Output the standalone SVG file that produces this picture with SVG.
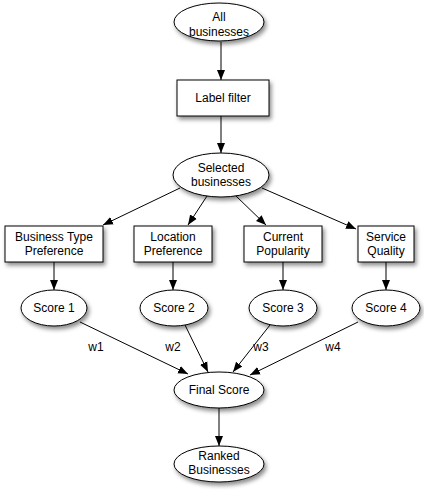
<svg xmlns="http://www.w3.org/2000/svg" width="424" height="497" viewBox="0 0 424 497">
<defs>
<filter id="sh" x="-30%" y="-30%" width="170%" height="180%">
<feDropShadow dx="2" dy="3" stdDeviation="2" flood-color="#000" flood-opacity="0.45"/>
</filter>
<marker id="ah" markerUnits="userSpaceOnUse" markerWidth="10" markerHeight="10" viewBox="0 0 10 10" refX="10" refY="5" orient="auto">
<path d="M0,1 L10,5 L0,9 Z" fill="#000"/>
</marker>
<style>
.n{fill:#fff;stroke:#000;stroke-width:1;filter:url(#sh)}
text{font-family:"Liberation Sans",Arial,Helvetica,sans-serif;font-size:12px;fill:#000;text-anchor:middle}
.e{stroke:#000;stroke-width:1;fill:none;marker-end:url(#ah)}
</style>
</defs>
<rect width="424" height="497" fill="#fff"/>
<g id="connectors">
<line class="e" x1="221" y1="42" x2="221" y2="80"/>
<line class="e" x1="221" y1="116" x2="221" y2="153"/>
<line class="e" x1="180" y1="188" x2="103" y2="225"/>
<line class="e" x1="207" y1="196" x2="188" y2="225"/>
<line class="e" x1="236" y1="196" x2="266" y2="225"/>
<line class="e" x1="262" y1="188" x2="356" y2="229"/>
<line class="e" x1="54" y1="262" x2="54" y2="290"/>
<line class="e" x1="173" y1="262" x2="173" y2="290"/>
<line class="e" x1="283" y1="262" x2="283" y2="290"/>
<line class="e" x1="386" y1="262" x2="386" y2="290"/>
<line class="e" x1="80" y1="322" x2="188" y2="374"/>
<line class="e" x1="185" y1="325" x2="208" y2="372"/>
<line class="e" x1="270" y1="325" x2="233" y2="372"/>
<line class="e" x1="358" y1="322" x2="250" y2="375"/>
<text x="96" y="351">w1</text>
<text x="173" y="351">w2</text>
<text x="261" y="351">w3</text>
<text x="333" y="351">w4</text>
<line class="e" x1="219" y1="408" x2="219" y2="446"/>
</g>
<g id="all">
<ellipse class="n" cx="219" cy="22" rx="45" ry="19"/>
<text x="219" y="21">All</text>
<text x="219" y="36">businesses</text>
</g>
<g id="labelfilter">
<rect class="n" x="177" y="80" width="92" height="36"/>
<text x="223" y="102">Label filter</text>
</g>
<g id="selected">
<ellipse class="n" cx="221" cy="175" rx="48" ry="22"/>
<text x="221" y="172">Selected</text>
<text x="221" y="186">businesses</text>
</g>
<g id="btype">
<rect class="n" x="5" y="226" width="98" height="36"/>
<text x="54" y="241">Business Type</text>
<text x="54" y="255">Preference</text>
</g>
<g id="location">
<rect class="n" x="134" y="226" width="78" height="36"/>
<text x="173" y="241">Location</text>
<text x="173" y="255">Preference</text>
</g>
<g id="popularity">
<rect class="n" x="244" y="226" width="78" height="36"/>
<text x="283" y="241">Current</text>
<text x="283" y="255">Popularity</text>
</g>
<g id="quality">
<rect class="n" x="358" y="226" width="56" height="36"/>
<text x="386" y="241">Service</text>
<text x="386" y="255">Quality</text>
</g>
<g id="score1">
<ellipse class="n" cx="54" cy="308" rx="33" ry="18"/>
<text x="54" y="312">Score 1</text>
</g>
<g id="score2">
<ellipse class="n" cx="174" cy="308" rx="34" ry="18"/>
<text x="174" y="312">Score 2</text>
</g>
<g id="score3">
<ellipse class="n" cx="283" cy="308" rx="34" ry="18"/>
<text x="283" y="312">Score 3</text>
</g>
<g id="score4">
<ellipse class="n" cx="386" cy="308" rx="34" ry="18"/>
<text x="386" y="312">Score 4</text>
</g>
<g id="final">
<ellipse class="n" cx="219" cy="390" rx="45" ry="18"/>
<text x="219" y="394">Final Score</text>
</g>
<g id="ranked">
<ellipse class="n" cx="219" cy="464" rx="45" ry="18"/>
<text x="219" y="460">Ranked</text>
<text x="219" y="474">Businesses</text>
</g>
</svg>
